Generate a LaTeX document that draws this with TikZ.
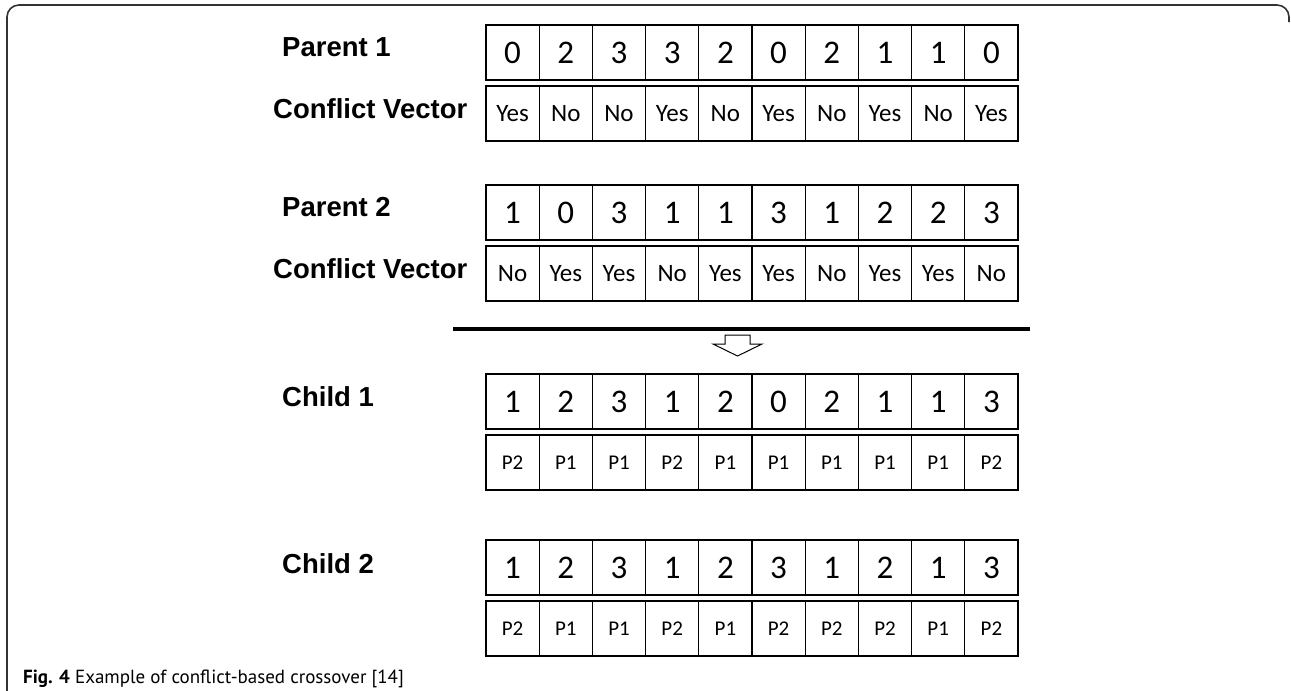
\documentclass[tikz,border=0pt]{standalone}
\usepackage{fontspec}
\setmainfont{Liberation Sans}
\newfontfamily\cellfont{Carlito}
\newfontfamily\capfont{PT Sans}
\newcommand\cellrow[4]{%
  \foreach \v [count=\i] in {#4} {
    \node[#2] (#1-\i) at ({486+53.2*(\i-0.5)},#3) {\v};
  }
  \draw[rowframe] (#1-1.north west) rectangle (#1-10.south east);
}
\begin{document}
\begin{tikzpicture}[x=1pt,y=-1pt,
  cell/.style={draw, line width=1.2pt, minimum width=53.2pt, minimum height=55pt, inner sep=0pt, outer sep=0pt, anchor=center},
  lab/.style={anchor=west, font=\bfseries\fontsize{27.5}{31}\selectfont, inner sep=0pt},
  num/.style={cell, font=\cellfont\fontsize{33}{36}\selectfont},
  yn/.style={cell, font=\cellfont\fontsize{25}{28}\selectfont},
  pp/.style={cell, font=\cellfont\fontsize{21}{24}\selectfont},
  rowframe/.style={line width=2.6pt},
  frame/.style={line width=1.6pt, black!80, rounded corners=12pt}]
\useasboundingbox (0,0) rectangle (1291,691);
\fill[white] (0,0) rectangle (1291,691);

\draw[frame] (7,691) -- (7,5) -- (1289,5) -- (1289,22);

\node[lab] (lp1) at (282,47) {Parent 1};
\node[lab] (lcv1) at (273,109) {Conflict Vector};
\node[lab] (lp2) at (282,207) {Parent 2};
\node[lab] (lcv2) at (273,269) {Conflict Vector};
\node[lab] (lc1) at (282,397) {Child 1};
\node[lab] (lc2) at (282,564) {Child 2};

\cellrow{pa}{num}{52.5}{0,2,3,3,2,0,2,1,1,0}
\cellrow{ca}{yn}{113.5}{Yes,No,No,Yes,No,Yes,No,Yes,No,Yes}
\cellrow{pb}{num}{212.5}{1,0,3,1,1,3,1,2,2,3}
\cellrow{cb}{yn}{273.5}{No,Yes,Yes,No,Yes,Yes,No,Yes,Yes,No}
\cellrow{ka}{num}{401.5}{1,2,3,1,2,0,2,1,1,3}
\cellrow{sa}{pp}{462.5}{P2,P1,P1,P2,P1,P1,P1,P1,P1,P2}
\cellrow{kb}{num}{567.5}{1,2,3,1,2,3,1,2,1,3}
\cellrow{sb}{pp}{628.5}{P2,P1,P1,P2,P1,P2,P2,P2,P1,P2}

\coordinate (sepl) at (453,329);
\coordinate (sepr) at (1030,329);
\draw[line width=4pt] (sepl) -- (sepr);

\draw[line width=1pt, line join=miter] (725,335) -- (750,335) -- (750,344) -- (762,344) -- (737.5,356) -- (713,344) -- (725,344) -- cycle;

\node[anchor=west, inner sep=0pt, font=\capfont\fontsize{19}{22}\selectfont] (cap) at (23,679) {\textbf{Fig. 4} Example of conflict-based crossover [14]};
\end{tikzpicture}
\end{document}
